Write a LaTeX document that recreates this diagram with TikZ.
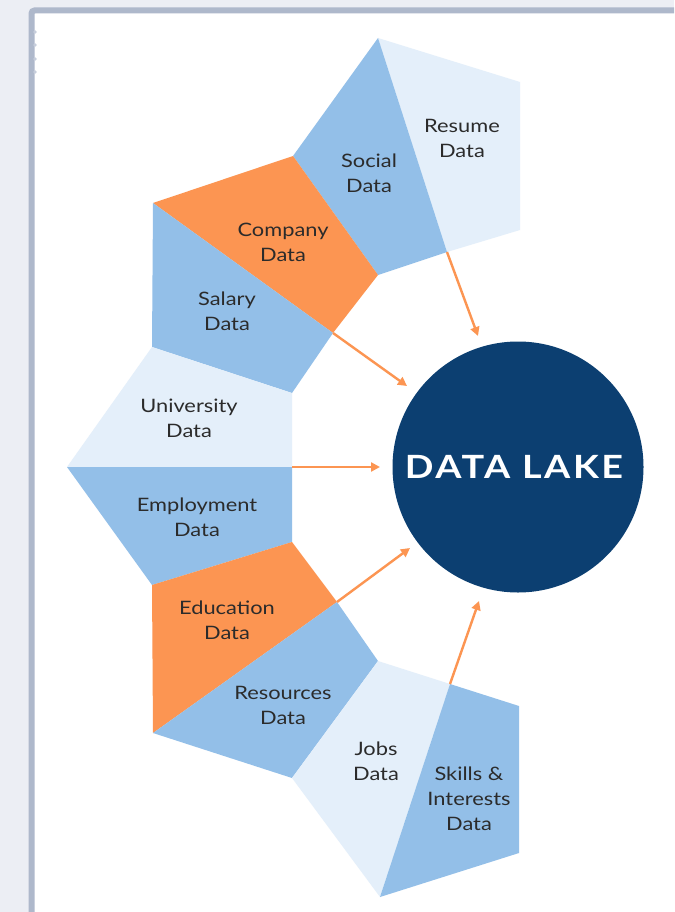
\documentclass[tikz,border=0pt]{standalone}
\usepackage{fontspec}
\setmainfont{Lato}[FakeStretch=1.18]
\usepackage{tikz}
\usetikzlibrary{arrows.meta}
\definecolor{pagebg}{HTML}{ECEEF4}
\definecolor{panelline}{HTML}{AEB8CB}
\definecolor{midblue}{HTML}{93BFE8}
\definecolor{paleblue}{HTML}{E4EFFA}
\definecolor{orangefill}{HTML}{FC9552}
\definecolor{lakeblue}{HTML}{0C3F71}
\definecolor{labeltext}{HTML}{2B2B2B}

\begin{document}
\begin{tikzpicture}[x=1pt, y=-1pt,
    lbl/.style={align=center, text=labeltext, font=\fontsize{18.5}{25}\selectfont},
    feed/.style={draw=orangefill, line width=2.4pt, -{Triangle[length=9pt,width=9pt]}}]
            \useasboundingbox (0,0) rectangle (674,912);
            \fill[pagebg] (0,0) rectangle (674,912);
            \fill[white] (31,10) rectangle (674,912);
            \draw[panelline, line width=6pt, rounded corners=3pt] (31.5,912) -- (31.5,10.5) -- (674,10.5);
            \foreach \y in {32,45,59,72} \fill[panelline!70] (35,\y) circle (1.8);

            % pentagon corners
            \coordinate (p1) at (378,38);
            \coordinate (p2) at (520,82);
            \coordinate (p3) at (520,230);
            \coordinate (p4) at (447,252);
            \coordinate (p5) at (378,275);
            \coordinate (p6) at (293,156);
            \coordinate (p7) at (153,203);
            \coordinate (p8) at (333,333);
            \coordinate (p9) at (292,393);
            \coordinate (p10) at (152,347);
            \coordinate (p11) at (67,467);
            \coordinate (p12) at (292,467);
            \coordinate (p13) at (292,542);
            \coordinate (p14) at (152,585);
            \coordinate (p15) at (337,602);
            \coordinate (p16) at (378,661);
            \coordinate (p17) at (292,778);
            \coordinate (p18) at (153,733);
            \coordinate (p19) at (450,684);
            \coordinate (p20) at (519,706);
            \coordinate (p21) at (519,853);
            \coordinate (p22) at (380,897);

            \fill[paleblue] (p1) -- (p2) -- (p3) -- (p4) -- cycle;
            \fill[midblue] (p1) -- (p4) -- (p5) -- (p6) -- cycle;
            \fill[orangefill] (p6) -- (p5) -- (p8) -- (p7) -- cycle;
            \fill[midblue] (p7) -- (p8) -- (p9) -- (p10) -- cycle;
            \fill[paleblue] (p10) -- (p9) -- (p12) -- (p11) -- cycle;
            \fill[midblue] (p11) -- (p12) -- (p13) -- (p14) -- cycle;
            \fill[orangefill] (p14) -- (p13) -- (p15) -- (p18) -- cycle;
            \fill[midblue] (p18) -- (p15) -- (p16) -- (p17) -- cycle;
            \fill[paleblue] (p17) -- (p16) -- (p19) -- (p22) -- cycle;
            \fill[midblue] (p19) -- (p20) -- (p21) -- (p22) -- cycle;

            \node[lbl] at (462,138) (resume) {Resume\\Data};
            \node[lbl] at (369,173) (social) {Social\\Data};
            \node[lbl] at (283,242) (company) {Company\\Data};
            \node[lbl] at (227,311) (salary) {Salary\\Data};
            \node[lbl] at (189,418) (university) {University\\Data};
            \node[lbl] at (197,517) (employment) {Employment\\Data};
            \node[lbl] at (227,620) (education) {Education\\Data};
            \node[lbl] at (283,705) (resources) {Resources\\Data};
            \node[lbl] at (376,761) (jobs) {Jobs\\Data};
            \node[lbl] at (469,799) (skills) {Skills \&\\Interests\\Data};

            \node[circle, fill=lakeblue, minimum size=251pt, inner sep=0pt, text=white,
                  font=\fontsize{32}{36}\selectfont\bfseries\addfontfeatures{LetterSpace=8}] at (518,467) (lake) {DATA LAKE\kern8pt};

            % arrow ends
            \coordinate (t1) at (478,336);
            \coordinate (t2) at (407,386);
            \coordinate (t3) at (380,467);
            \coordinate (t4) at (410,548);
            \coordinate (t5) at (479,601);

            \draw[feed] (p4) -- (t1);
            \draw[feed] (p8) -- (t2);
            \draw[feed] (p12) -- (t3);
            \draw[feed] (p15) -- (t4);
            \draw[feed] (p19) -- (t5);
        \end{tikzpicture}
\end{document}
